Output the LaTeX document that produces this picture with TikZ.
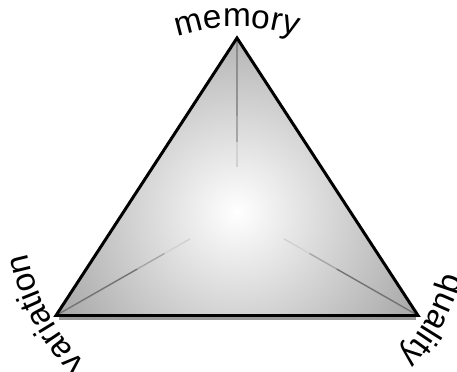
\documentclass[tikz,border=0pt]{standalone}
\usepackage{fontspec}
\newfontfamily\labelfont{Liberation Sans}
\usepackage{tikz}
\usetikzlibrary{calc,decorations.text}

\begin{document}
\begin{tikzpicture}[x=0.02cm,y=0.02cm,
  edge/.style={line width=1.7pt,line join=miter},
  spoke/.style={line width=0.8pt},
  lbl/.style={decorate,decoration={text along path,text align=center,
    text={|\labelfont\fontsize{19}{19}\selectfont|#1}}}]
\useasboundingbox (0,0) rectangle (457,372);
\coordinate (C) at (237,160);
\coordinate (T) at (237,334);
\coordinate (L) at (56,56.5);
\coordinate (R) at (418,56.5);
% shaded face
\begin{scope}
\clip (T) -- (L) -- (R) -- cycle;
\shade[inner color=white,outer color=black!36] (C) circle (215);
\end{scope}
% spokes, fading towards the middle
\foreach \v in {T,L,R}{
  \draw[spoke,black!55] (\v) -- ($(\v)!0.45!(C)$);
  \draw[spoke,black!35] ($(\v)!0.45!(C)$) -- ($(\v)!0.6!(C)$);
  \draw[spoke,black!18] ($(\v)!0.6!(C)$) -- ($(\v)!0.74!(C)$);
}
\draw[line width=1.4pt,black!40] ($(L)+(3,-3)$) -- ($(R)+(-2,-3)$);
\draw[edge] (T) -- (L) -- (R) -- cycle;
% labels round the corners
\path[lbl=memory] (C) ++(115:185) arc[start angle=115,end angle=65,radius=185];
\path[lbl=variation] (C) ++(245:214) arc[start angle=245,end angle=171,radius=214];
\path[lbl=quality] (C) ++(5:217) arc[start angle=5,end angle=-63,radius=217];
\end{tikzpicture}
\end{document}
